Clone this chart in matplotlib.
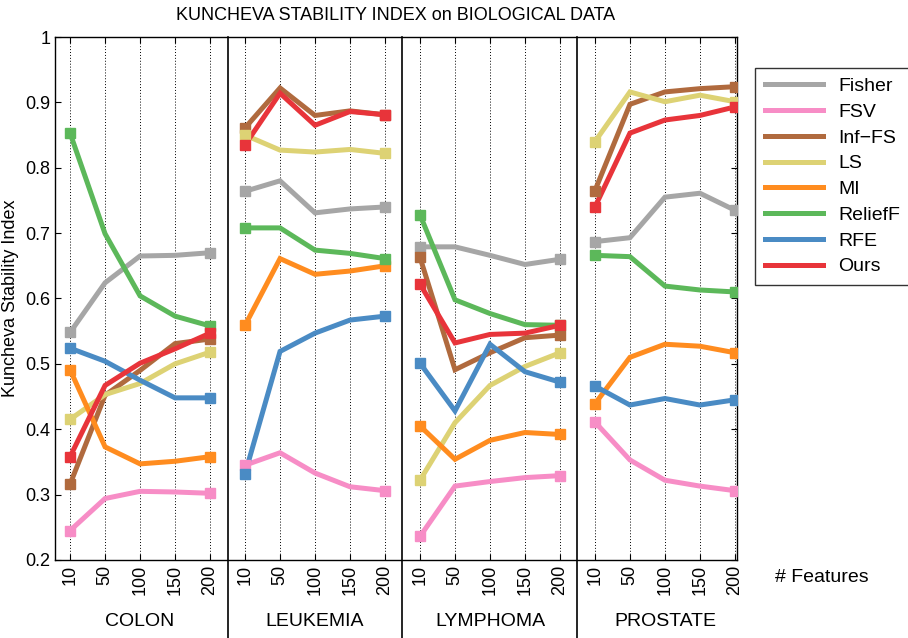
import matplotlib
matplotlib.use("Agg")
import matplotlib.pyplot as plt
import matplotlib.transforms as mtransforms

plt.rcParams['font.family'] = ['Liberation Sans', 'DejaVu Sans']

datasets = ['COLON', 'LEUKEMIA', 'LYMPHOMA', 'PROSTATE']
n_features = ['10', '50', '100', '150', '200']
methods = ['Fisher', 'FSV', 'Inf\u2212FS', 'LS', 'MI', 'ReliefF', 'RFE', 'Ours']
colors = ['#a6a6a6', '#f78dc6', '#b06a3e', '#ddd274', '#ff8c1f', '#5cb85a', '#4a8bc4', '#e8343a']

# one list per method: COLON, LEUKEMIA, LYMPHOMA, PROSTATE (5 values each)
fisher = [[0.548, 0.624, 0.665, 0.666, 0.670],
          [0.764, 0.780, 0.731, 0.737, 0.740],
          [0.679, 0.679, 0.666, 0.652, 0.660],
          [0.687, 0.693, 0.755, 0.761, 0.735]]
fsv = [[0.245, 0.294, 0.305, 0.304, 0.302],
       [0.345, 0.364, 0.333, 0.312, 0.306],
       [0.236, 0.313, 0.320, 0.326, 0.329],
       [0.411, 0.353, 0.322, 0.313, 0.306]]
inffs = [[0.316, 0.452, 0.490, 0.531, 0.538],
         [0.861, 0.922, 0.880, 0.887, 0.881],
         [0.663, 0.491, 0.517, 0.540, 0.544],
         [0.765, 0.897, 0.916, 0.921, 0.924]]
ls = [[0.415, 0.453, 0.470, 0.500, 0.518],
      [0.850, 0.827, 0.824, 0.828, 0.822],
      [0.322, 0.410, 0.467, 0.496, 0.517],
      [0.840, 0.916, 0.901, 0.911, 0.901]]
mi = [[0.491, 0.373, 0.347, 0.351, 0.358],
      [0.559, 0.661, 0.637, 0.642, 0.650],
      [0.405, 0.354, 0.383, 0.395, 0.392],
      [0.439, 0.510, 0.530, 0.527, 0.517]]
relieff = [[0.853, 0.699, 0.604, 0.573, 0.558],
           [0.708, 0.708, 0.674, 0.669, 0.661],
           [0.728, 0.598, 0.577, 0.560, 0.559],
           [0.666, 0.664, 0.619, 0.613, 0.610]]
rfe = [[0.524, 0.504, 0.475, 0.448, 0.448],
       [0.332, 0.519, 0.547, 0.567, 0.573],
       [0.501, 0.428, 0.530, 0.488, 0.472],
       [0.466, 0.437, 0.447, 0.437, 0.445]]
ours = [[0.358, 0.467, 0.501, 0.523, 0.547],
        [0.835, 0.914, 0.865, 0.886, 0.881],
        [0.622, 0.532, 0.545, 0.547, 0.559],
        [0.740, 0.853, 0.873, 0.880, 0.893]]
series = [fisher, fsv, inffs, ls, mi, relieff, rfe, ours]

fig = plt.figure(figsize=(9.08, 6.38), dpi=100)
ax = fig.add_axes([0.0606, 0.1223, 0.7511, 0.8197])

nf = len(n_features)
for name, col, vals in zip(methods, colors, series):
    for d in range(len(datasets)):
        xs = [d * nf + i + 1 for i in range(nf)]
        ax.plot(xs, vals[d], color=col, lw=3.6, solid_joinstyle='miter',
                label=name if d == 0 else None, zorder=3)
        ax.plot([xs[0], xs[-1]], [vals[d][0], vals[d][-1]], 's', color=col,
                ms=7, mec=col, zorder=4)

xt = [d * nf + i + 1 for d in range(len(datasets)) for i in range(nf)]
ax.set_xticks(xt)
ax.set_xticklabels(n_features * len(datasets), rotation=90, fontsize=13)
ax.set_xlim(0.57, 20.06)
ax.set_ylim(0.2, 1.0)
ax.set_yticks([0.2, 0.3, 0.4, 0.5, 0.6, 0.7, 0.8, 0.9, 1.0])
ax.set_yticklabels(['0.2', '0.3', '0.4', '0.5', '0.6', '0.7', '0.8', '0.9', '1'], fontsize=13)
ax.tick_params(direction='in', top=True, right=True, length=4, width=0.8)
ax.grid(axis='x', linestyle=(0, (1, 2)), color='black', lw=0.7)
ax.set_ylabel('Kuncheva Stability Index', fontsize=13)
ax.set_title('KUNCHEVA STABILITY INDEX on BIOLOGICAL DATA', fontsize=13, pad=12)

trans = mtransforms.blended_transform_factory(ax.transData, ax.transAxes)
for d in range(1, len(datasets)):
    ax.plot([d * nf + 0.5] * 2, [1.0, -0.15], color='black', lw=1.2,
            transform=trans, clip_on=False, zorder=5)
for d, name in enumerate(datasets):
    ax.text(d * nf + 3, -0.118, name, transform=trans, ha='center', va='center', fontsize=14)
ax.text(1.055, -0.034, '# Features', transform=ax.transAxes, ha='left', va='center', fontsize=14)

leg = ax.legend(loc='upper left', bbox_to_anchor=(1.012, 0.96), fontsize=14,
                handlelength=3.0, fancybox=False, edgecolor='black',
                labelspacing=0.42, borderpad=0.5, handletextpad=0.8)
leg.get_frame().set_linewidth(1.0)

for s in ax.spines.values():
    s.set_linewidth(1.0)

fig.savefig('out.png', dpi=100)
